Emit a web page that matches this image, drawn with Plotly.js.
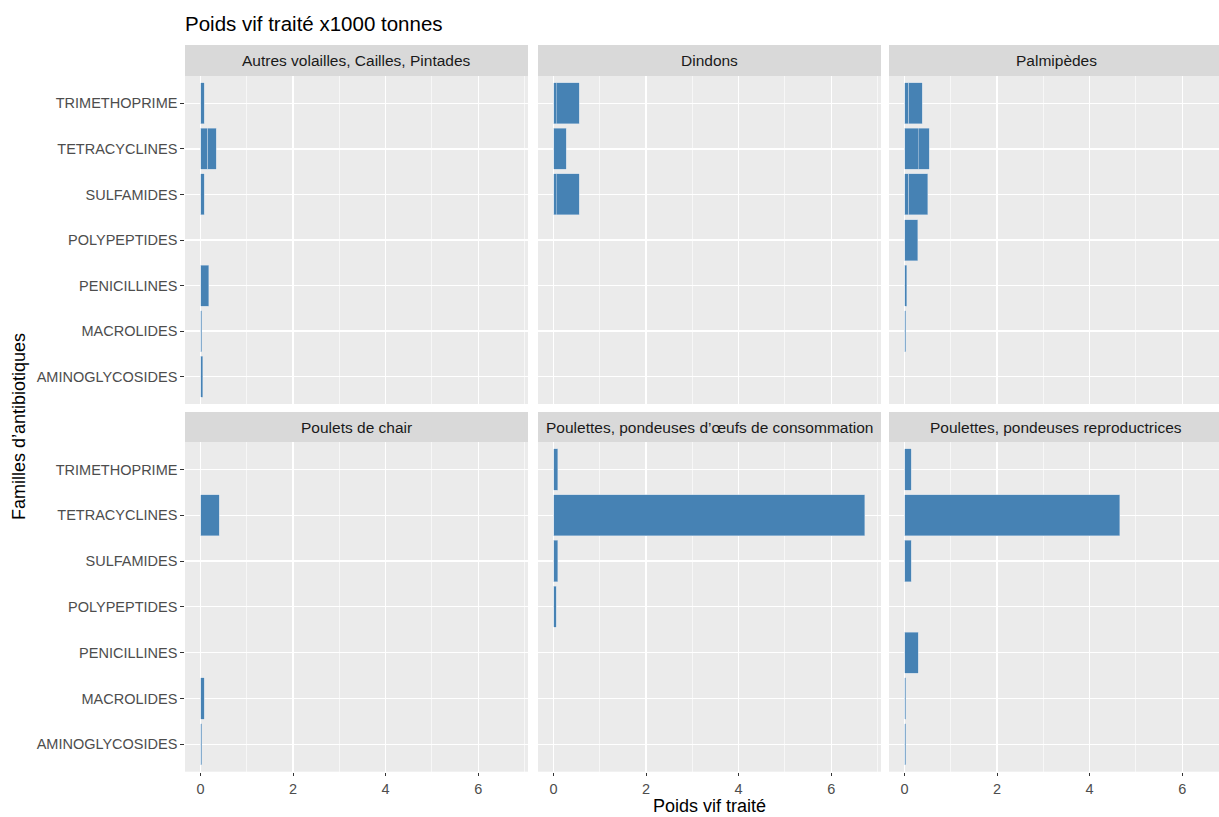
<!DOCTYPE html>
<html>
<head>
<meta charset="utf-8">
<script src="https://cdn.plot.ly/plotly-3.0.1.min.js"></script>
<style>html,body{margin:0;padding:0;background:#fff}#chart{width:1219px;height:817px}</style>
</head>
<body>
<div id="chart"></div>
<script>
// ---- Data ----
const categories = ["AMINOGLYCOSIDES","MACROLIDES","PENICILLINES","POLYPEPTIDES","SULFAMIDES","TETRACYCLINES","TRIMETHOPRIME"];
const facetNames = [
  "Autres volailles, Cailles, Pintades",
  "Dindons",
  "Palmipèdes",
  "Poulets de chair",
  "Poulettes, pondeuses d’œufs de consommation",
  "Poulettes, pondeuses reproductrices"
];
// stacked segments (first segment, second segment) per facet, in categories order
const autresSeg1   = [0.05, 0.03, 0.18, null, 0.08, 0.16, 0.08];
const autresSeg2   = [null, null, null, null, null, 0.18, null];
const dindonsSeg1  = [null, null, null, null, 0.06, 0.27, 0.06];
const dindonsSeg2  = [null, null, null, null, 0.49, null, 0.49];
const palmSeg1     = [null, 0.03, 0.05, 0.28, 0.09, 0.30, 0.09];
const palmSeg2     = [null, null, null, null, 0.41, 0.23, 0.29];
const pouletsSeg1  = [0.03, 0.08, null, null, null, 0.40, null];
const pouletsSeg2  = [null, null, null, null, null, null, null];
const consoSeg1    = [null, null, null, 0.06, 0.09, 6.73, 0.09];
const consoSeg2    = [null, null, null, null, null, null, null];
const reproSeg1    = [0.03, 0.03, 0.30, null, 0.14, 4.65, 0.14];
const reproSeg2    = [null, null, null, null, null, null, null];
const xTickVals = [0, 2, 4, 6];
const xTickText = ["0", "2", "4", "6"];

const segs = [
  [autresSeg1, autresSeg2],
  [dindonsSeg1, dindonsSeg2],
  [palmSeg1, palmSeg2],
  [pouletsSeg1, pouletsSeg2],
  [consoSeg1, consoSeg2],
  [reproSeg1, reproSeg2]
];

// ---- Layout geometry ----
const W = 1219, H = 817;
const px = v => v / W;
const py = v => 1 - v / H;
const colPx = [[185, 528], [538, 881], [889, 1219]];
const rowPx = [[76, 404], [442, 771.7]];
const stripPx = [[45, 76], [412, 442]];
const pxPerUnit = 343 / (7.077 + 0.337);

const FONT = "Liberation Sans, Arial, sans-serif";
const traces = [];
const layout = {
  width: W, height: H,
  margin: {l: 0, r: 0, t: 0, b: 0},
  paper_bgcolor: "#FFFFFF",
  plot_bgcolor: "#EBEBEB",
  barmode: "stack",
  bargap: 0.1,
  showlegend: false,
  font: {family: FONT, color: "#4D4D4D"},
  title: {
    text: "Poids vif traité x1000 tonnes",
    x: px(185), xref: "paper", xanchor: "left",
    y: py(24), yref: "paper", yanchor: "middle",
    font: {family: FONT, size: 20.5, color: "#000000"}
  },
  shapes: [],
  annotations: []
};

for (let i = 0; i < 6; i++) {
  const r = Math.floor(i / 3), c = i % 3;
  const n = i + 1;
  const xa = "x" + n, ya = "y" + n;
  const xk = "xaxis" + n, yk = "yaxis" + n;
  segs[i].forEach((s, k) => {
    traces.push({
      type: "bar", orientation: "h",
      x: s, y: categories,
      xaxis: xa, yaxis: ya,
      marker: {color: "#4682B4", line: {color: "rgba(190,210,230,0.9)", width: 0.6}},
      hoverinfo: "skip"
    });
  });
  const x0 = colPx[c][0], x1 = colPx[c][1];
  const xmax = -0.337 + (x1 - x0) / pxPerUnit;
  layout[xk] = {
    domain: [px(x0), px(x1)],
    range: [-0.337, xmax],
    anchor: ya,
    tickvals: xTickVals, ticktext: xTickText,
    showticklabels: r === 1,
    ticks: r === 1 ? "outside" : "",
    ticklen: 3.7, tickwidth: 1, tickcolor: "#333333",
    tickfont: {family: FONT, size: 14.5, color: "#4D4D4D"},
    showgrid: true, gridcolor: "#FFFFFF", gridwidth: 1.3,
    minor: {dtick: 1, tick0: 0, showgrid: true, gridcolor: "#FFFFFF", gridwidth: 0.6},
    zeroline: false, showline: false, fixedrange: true
  };
  layout[yk] = {
    domain: [py(rowPx[r][1]), py(rowPx[r][0])],
    type: "category",
    categoryorder: "array", categoryarray: categories,
    range: [-0.6, 6.6],
    anchor: xa,
    showticklabels: c === 0,
    ticks: c === 0 ? "outside" : "",
    ticklen: 3.7, tickwidth: 1, tickcolor: "#333333",
    tickfont: {family: FONT, size: 14.5, color: "#4D4D4D"},
    showgrid: true, gridcolor: "#FFFFFF", gridwidth: 1.3,
    zeroline: false, showline: false, fixedrange: true
  };
  // strip
  layout.shapes.push({
    type: "rect", xref: "paper", yref: "paper",
    x0: px(x0), x1: px(x1),
    y0: py(stripPx[r][1]), y1: py(stripPx[r][0]),
    fillcolor: "#D9D9D9", line: {width: 0}, layer: "below"
  });
  layout.annotations.push({
    text: facetNames[i], xref: "paper", yref: "paper",
    x: px(c === 2 ? 1056 : (x0 + x1) / 2),
    y: py((stripPx[r][0] + stripPx[r][1]) / 2),
    xanchor: "center", yanchor: "middle", showarrow: false,
    font: {family: FONT, size: 15.5, color: "#1A1A1A"}
  });
}

layout.annotations.push({
  text: "Poids vif traité", xref: "paper", yref: "paper",
  x: px(709), y: py(806), xanchor: "center", yanchor: "middle",
  showarrow: false, font: {family: FONT, size: 18, color: "#000000"}
});
layout.annotations.push({
  text: "Familles d’antibiotiques", xref: "paper", yref: "paper",
  x: px(19), y: py(427), xanchor: "center", yanchor: "middle",
  textangle: -90, showarrow: false, font: {family: FONT, size: 18, color: "#000000"}
});

Plotly.newPlot("chart", traces, layout, {displayModeBar: false, staticPlot: true});
</script>
</body>
</html>
